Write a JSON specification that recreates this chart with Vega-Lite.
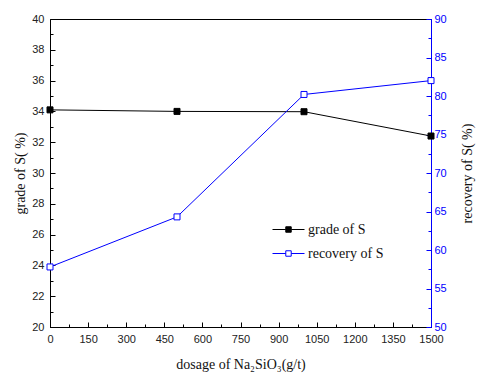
{
  "$schema": "https://vega.github.io/schema/vega-lite/v6.json",
  "width": 381,
  "height": 308,
  "autosize": "none",
  "padding": {"left": 50, "top": 19, "right": 46, "bottom": 49},
  "background": "white",
  "config": {
    "view": {"stroke": "black", "strokeWidth": 1},
    "axis": {
      "grid": false,
      "domainColor": "black",
      "tickColor": "black",
      "labelFont": "Liberation Sans",
      "labelFontSize": 11,
      "labelColor": "#222",
      "titleFont": "Liberation Serif",
      "titleFontSize": 14,
      "titleFontWeight": "normal",
      "titleColor": "#111"
    }
  },
  "data": {
    "values": [
      {"dosage": 0, "series": "grade of S", "value": 34.1},
      {"dosage": 500, "series": "grade of S", "value": 34.0},
      {"dosage": 1000, "series": "grade of S", "value": 33.98},
      {"dosage": 1500, "series": "grade of S", "value": 32.4},
      {"dosage": 0, "series": "recovery of S", "value": 57.8},
      {"dosage": 500, "series": "recovery of S", "value": 64.3},
      {"dosage": 1000, "series": "recovery of S", "value": 80.2},
      {"dosage": 1500, "series": "recovery of S", "value": 82.0}
    ]
  },
  "encoding": {
    "x": {
      "field": "dosage", "type": "quantitative",
      "scale": {"domain": [0, 1500], "nice": false},
      "axis": {
        "title": "dosage of Na₂SiO₃(g/t)",
        "format": "d",
        "values": [0,75,150,225,300,375,450,525,600,675,750,825,900,975,1050,1125,1200,1275,1350,1425,1500],
        "labelExpr": "datum.value % 150 == 0 ? datum.label : ''",
        "tickSize": {"condition": {"test": "datum.value % 150 == 0", "value": -5}, "value": -3},
        "labelPadding": 11,
        "labelFlush": false,
        "titlePadding": 13
      }
    },
    "stroke": {
      "field": "series", "type": "nominal",
      "scale": {"domain": ["grade of S", "recovery of S"], "range": ["black", "#0000ff"]},
      "legend": {
        "title": null,
        "orient": "none",
        "legendX": 222,
        "legendY": 194,
        "padding": 0,
        "symbolType": "M-1,0H-0.17M0.17,0H1M-0.17,-0.17H0.17V0.17H-0.17Z",
        "symbolSize": 1024,
        "symbolStrokeWidth": 1,
        "labelFont": "Liberation Serif",
        "labelFontSize": 14,
        "labelColor": "#111",
        "labelOffset": 3,
        "rowPadding": -15
      }
    }
  },
  "layer": [
    {
      "transform": [{"filter": "datum.series == 'grade of S'"}],
      "encoding": {
        "y": {
          "field": "value", "type": "quantitative",
          "scale": {"domain": [20, 40], "nice": false, "zero": false},
          "axis": {
            "title": "grade of S( %)",
            "orient": "left",
            "values": [20,21,22,23,24,25,26,27,28,29,30,31,32,33,34,35,36,37,38,39,40],
            "labelExpr": "datum.value % 2 == 0 ? datum.label : ''",
            "tickSize": {"condition": {"test": "datum.value % 2 == 0", "value": -5}, "value": -3},
            "labelPadding": 11,
            "labelFlush": false,
            "titlePadding": 4
          }
        }
      },
      "layer": [
        {"mark": {"type": "line", "strokeWidth": 1}},
        {
          "mark": {"type": "point", "shape": "square", "size": 36, "filled": true, "strokeWidth": 1, "opacity": 1},
          "encoding": {
            "fill": {
              "field": "series", "type": "nominal",
              "scale": {"domain": ["grade of S", "recovery of S"], "range": ["black", "white"]},
              "legend": {
                "title": null,
                "orient": "none",
                "legendX": 222,
                "legendY": 194,
                "padding": 0,
                "symbolType": "M-1,0H-0.17M0.17,0H1M-0.17,-0.17H0.17V0.17H-0.17Z",
                "symbolSize": 1024,
                "symbolStrokeWidth": 1,
                "labelFont": "Liberation Serif",
                "labelFontSize": 14,
                "labelColor": "#111",
                "labelOffset": 3,
                "rowPadding": -15
              }
            }
          }
        }
      ]
    },
    {
      "transform": [{"filter": "datum.series == 'recovery of S'"}],
      "encoding": {
        "y": {
          "field": "value", "type": "quantitative",
          "scale": {"domain": [50, 90], "nice": false, "zero": false},
          "axis": {
            "title": "recovery of S( %)",
            "orient": "right",
            "titleAngle": 270,
            "values": [50,52.5,55,57.5,60,62.5,65,67.5,70,72.5,75,77.5,80,82.5,85,87.5,90],
            "labelExpr": "datum.value % 5 == 0 ? datum.label : ''",
            "tickSize": {"condition": {"test": "datum.value % 5 == 0", "value": -5}, "value": -3},
            "labelPadding": 8,
            "labelFlush": false,
            "domainColor": "#0000ff",
            "tickColor": "#0000ff",
            "labelColor": "#0000ff",
            "titlePadding": 28
          }
        }
      },
      "layer": [
        {"mark": {"type": "line", "strokeWidth": 1}},
        {
          "mark": {"type": "point", "shape": "square", "size": 36, "filled": true, "strokeWidth": 1, "opacity": 1},
          "encoding": {
            "fill": {
              "field": "series", "type": "nominal",
              "scale": {"domain": ["grade of S", "recovery of S"], "range": ["black", "white"]}
            }
          }
        }
      ]
    }
  ],
  "resolve": {"scale": {"y": "independent"}}
}
